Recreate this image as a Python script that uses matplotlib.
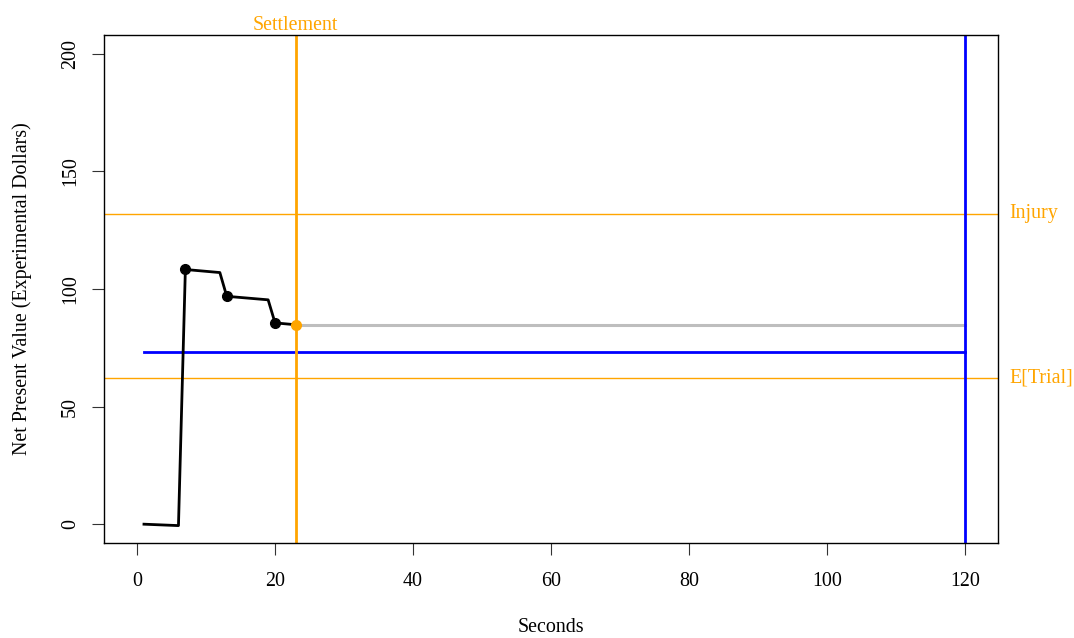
import matplotlib

matplotlib.use("Agg")
import matplotlib.pyplot as plt

plt.rcParams["font.family"] = ["Liberation Serif", "DejaVu Serif"]

# Траектория оценки по секундам (черная линия) и точки обновления оффера
path_t = [1, 6, 7, 12, 13, 19, 20, 23]
path_v = [0, -0.6, 108.3, 107.0, 96.9, 95.4, 85.6, 84.8]
offer_t = [7, 13, 20]
offer_v = [108.3, 96.9, 85.6]

settle_t = 23
settle_v = 84.8
end_t = 120

value_t = [1, 120]
value_level = 73.4  # синяя горизонталь

injury = 132.0
e_trial = 62.0

ORANGE = "#FFA500"
BLUE = "#0000FF"
FS = 14.4

fig = plt.figure(figsize=(10.74, 6.38), dpi=100)
ax = fig.add_axes([0.0968, 0.1489, 0.9292 - 0.0968, 0.9451 - 0.1489])

ax.axhline(injury, color=ORANGE, lw=1.0)
ax.axhline(e_trial, color=ORANGE, lw=1.0)
ax.plot([settle_t, end_t], [settle_v, settle_v], color="#BEBEBE", lw=2.2)
ax.plot(value_t, [value_level, value_level], color=BLUE, lw=2.0)
ax.axvline(end_t, color=BLUE, lw=2.0)
ax.axvline(settle_t, color=ORANGE, lw=2.0)
ax.plot(path_t, path_v, color="black", lw=2.0)
ax.plot(offer_t, offer_v, "o", color="black", ms=7)
ax.plot([settle_t], [settle_v], "o", color=ORANGE, ms=7)

ax.set_xlim(-4.8, 124.8)
ax.set_ylim(-8, 208)
ax.set_xticks([0, 20, 40, 60, 80, 100, 120])
ax.set_yticks([0, 50, 100, 150, 200])
ax.tick_params(labelsize=FS, length=8.6, direction="out", color="#333333")
ax.tick_params(axis="x", pad=12)
ax.tick_params(axis="y", pad=8.5)
for lab in ax.get_yticklabels():
    lab.set_rotation(90)
    lab.set_va("center")
for s in ax.spines.values():
    s.set_linewidth(1.0)

ax.set_xlabel("Seconds", fontsize=FS, va="center")
ax.xaxis.set_label_coords(0.5, -0.167)
ax.set_ylabel("Net Present Value (Experimental Dollars)", fontsize=FS, va="center")
ax.yaxis.set_label_coords(-0.092, 0.5)

ax.text(settle_t, 210.0, "Settlement", color=ORANGE, fontsize=FS,
        ha="center", va="baseline", clip_on=False)
ax.text(126.5, injury, "Injury", color=ORANGE, fontsize=FS,
        ha="left", va="center", clip_on=False)
ax.text(126.5, e_trial, "E[Trial]", color=ORANGE, fontsize=FS,
        ha="left", va="center", clip_on=False)

fig.savefig("out.png", dpi=100)
